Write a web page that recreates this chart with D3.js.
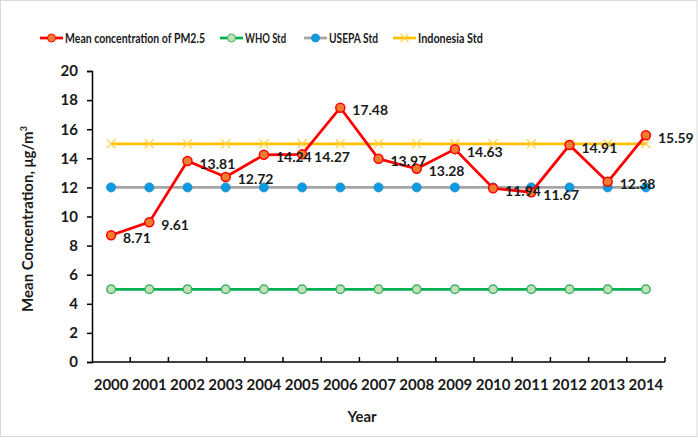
<!DOCTYPE html>
<html>
<head>
<meta charset="utf-8">
<script src="https://cdn.jsdelivr.net/npm/d3@7"></script>
<style>
  html, body { margin: 0; padding: 0; background: #fff; }
  svg { display: block; }
  text { font-family: Lato, "Open Sans", sans-serif; font-weight: bold; fill: #1a1a1a; }
</style>
</head>
<body>
<svg id="chart" width="698" height="441"></svg>
<script>
const years = ["2000","2001","2002","2003","2004","2005","2006","2007","2008","2009","2010","2011","2012","2013","2014"];
const pm25 = [8.71, 9.61, 13.81, 12.72, 14.24, 14.27, 17.48, 13.97, 13.28, 14.63, 11.94, 11.67, 14.91, 12.38, 15.59];
const whoStd = [5,5,5,5,5,5,5,5,5,5,5,5,5,5,5];
const usepaStd = [12,12,12,12,12,12,12,12,12,12,12,12,12,12,12];
const indonesiaStd = [15,15,15,15,15,15,15,15,15,15,15,15,15,15,15];
const yTicks = [0,2,4,6,8,10,12,14,16,18,20];
const seriesNames = ["Mean concentration of PM2.5", "WHO Std", "USEPA Std", "Indonesia Std"];

const svg = d3.select("#chart");
const plotL = 92, plotR = 665, plotT = 71, plotB = 362;

// chart border
svg.append("rect").attr("x", 0.5).attr("y", 0.5).attr("width", 696.5).attr("height", 436)
  .attr("fill", "#fff").attr("stroke", "#d9d9d9").attr("stroke-width", 1);

const x = d3.scaleBand().domain(years).range([plotL, plotR]).padding(0);
const y = d3.scaleLinear().domain([0, 20]).range([plotB, plotT]);
const cx = d => x(d) + x.bandwidth() / 2;

// Y axis
const yAxis = svg.append("g").attr("transform", `translate(${plotL},0)`)
  .call(d3.axisLeft(y).tickValues(yTicks).tickSize(5).tickPadding(9).tickFormat(d3.format("d")));
yAxis.select(".domain").attr("stroke", "#000").attr("stroke-width", 1.5);
yAxis.selectAll(".tick line").attr("stroke", "#000").attr("stroke-width", 1.5);
yAxis.selectAll(".tick text").style("font-size", "15px").attr("fill", "#1a1a1a")
  .style("font-family", "Lato, sans-serif").style("font-weight", "bold");

// X axis
const xg = svg.append("g");
xg.append("line").attr("x1", plotL).attr("x2", plotR).attr("y1", y(0)).attr("y2", y(0))
  .attr("stroke", "#000").attr("stroke-width", 1.5);
xg.selectAll("line.tk").data(years).enter().append("line").attr("class", "tk")
  .attr("x1", d => x(d) + x.bandwidth()).attr("x2", d => x(d) + x.bandwidth())
  .attr("y1", y(0)).attr("y2", y(0) - 5).attr("stroke", "#000").attr("stroke-width", 1.5);
xg.selectAll("text").data(years).enter().append("text")
  .attr("x", d => cx(d)).attr("y", 390).attr("text-anchor", "middle")
  .style("font-size", "15px").text(d => d);

// Axis titles
svg.append("text").attr("x", 362).attr("y", 422).attr("text-anchor", "middle")
  .style("font-size", "15px").text("Year");
svg.append("text").attr("transform", "translate(33,219) rotate(-90)").attr("text-anchor", "middle")
  .style("font-size", "15px")
  .html('Mean Concentration, μg/m<tspan dy="-6" style="font-size:9px">3</tspan>');

const line = d3.line().x((d, i) => cx(years[i])).y(d => y(d));

// WHO
svg.append("path").datum(whoStd).attr("d", line).attr("fill", "none").attr("stroke", "#00B050").attr("stroke-width", 2.75);
svg.selectAll("circle.who").data(whoStd).enter().append("circle").attr("class", "who")
  .attr("cx", (d, i) => cx(years[i])).attr("cy", d => y(d)).attr("r", 4.3)
  .attr("fill", "#C5E0B4").attr("stroke", "#3CB46A").attr("stroke-width", 1.5);

// USEPA
svg.append("path").datum(usepaStd).attr("d", line).attr("fill", "none").attr("stroke", "#A5A5A5").attr("stroke-width", 2.75);
svg.selectAll("circle.us").data(usepaStd).enter().append("circle").attr("class", "us")
  .attr("cx", (d, i) => cx(years[i])).attr("cy", d => y(d)).attr("r", 4.5)
  .attr("fill", "#0B9BE0").attr("stroke", "#2A8FD0").attr("stroke-width", 1);

// Indonesia
svg.append("path").datum(indonesiaStd).attr("d", line).attr("fill", "none").attr("stroke", "#FFC000").attr("stroke-width", 2.75);
const xm = 4.5;
svg.selectAll("path.ind").data(indonesiaStd).enter().append("path").attr("class", "ind")
  .attr("d", (d, i) => { const px = cx(years[i]), py = y(d);
    return `M${px-xm},${py-xm}L${px+xm},${py+xm}M${px-xm},${py+xm}L${px+xm},${py-xm}`; })
  .attr("stroke", "#FFD34D").attr("stroke-width", 1.2).attr("fill", "none");

// PM2.5
svg.append("path").datum(pm25).attr("d", line).attr("fill", "none").attr("stroke", "#FF0000").attr("stroke-width", 2.75);
svg.selectAll("circle.pm").data(pm25).enter().append("circle").attr("class", "pm")
  .attr("cx", (d, i) => cx(years[i])).attr("cy", d => y(d)).attr("r", 4.5)
  .attr("fill", "#ED7D31").attr("stroke", "#FF0000").attr("stroke-width", 1.5);
svg.selectAll("text.lbl").data(pm25).enter().append("text").attr("class", "lbl")
  .attr("x", (d, i) => cx(years[i]) + 12).attr("y", d => y(d) + 2)
  .attr("dominant-baseline", "central").style("font-size", "14px")
  .text(d => d.toFixed(2));

// Legend
const legY = 38;
const legItems = [
  { name: seriesNames[0], x: 40, w: 140, line: "#FF0000", marker: "circle", fill: "#ED7D31", stroke: "#FF0000" },
  { name: seriesNames[1], x: 220, w: 41, line: "#00B050", marker: "circle", fill: "#C5E0B4", stroke: "#3CB46A" },
  { name: seriesNames[2], x: 304, w: 49, line: "#A5A5A5", marker: "circle", fill: "#0B9BE0", stroke: "#2A8FD0" },
  { name: seriesNames[3], x: 393, w: 65, line: "#FFC000", marker: "x" }
];
legItems.forEach(it => {
  const g = svg.append("g");
  g.append("line").attr("x1", it.x).attr("x2", it.x + 23).attr("y1", legY).attr("y2", legY)
    .attr("stroke", it.line).attr("stroke-width", 2.75);
  const mx = it.x + 11.5;
  if (it.marker === "circle") {
    g.append("circle").attr("cx", mx).attr("cy", legY).attr("r", 4).attr("fill", it.fill)
      .attr("stroke", it.stroke).attr("stroke-width", 1);
  } else {
    g.append("path").attr("d", `M${mx-4},${legY-4}L${mx+4},${legY+4}M${mx-4},${legY+4}L${mx+4},${legY-4}`)
      .attr("stroke", "#FFD34D").attr("stroke-width", 1.2);
  }
  g.append("text").attr("x", it.x + 25).attr("y", legY).attr("dominant-baseline", "central")
    .style("font-size", "13.5px").attr("textLength", it.w).attr("lengthAdjust", "spacingAndGlyphs")
    .text(it.name);
});
</script>
</body>
</html>
